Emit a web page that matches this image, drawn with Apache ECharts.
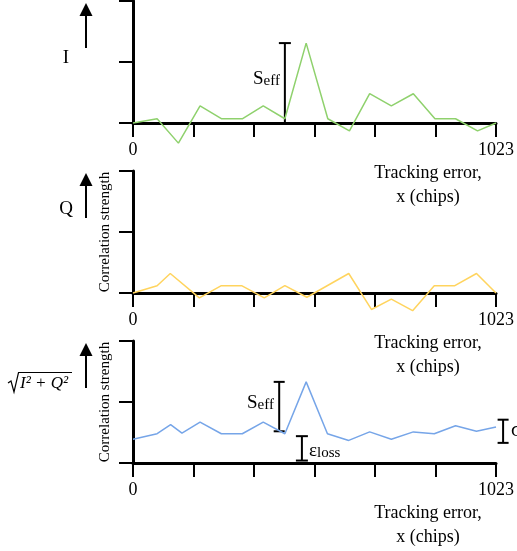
<!DOCTYPE html>
<html>
<head>
<meta charset="utf-8">
<script src="https://cdn.jsdelivr.net/npm/echarts@6/dist/echarts.min.js"></script>
<style>
html, body { margin: 0; padding: 0; background: #fff; }
#main { width: 517px; height: 551px; }
</style>
</head>
<body>
<div id="main"></div>
<script>
// 跟踪误差 (chips) 与各通道相关值
const xI = [0, 68, 128, 189, 249, 309, 367, 428, 488, 549, 610, 667, 728, 790, 851, 909, 971, 1023];
const yI = [0, 0.07, -0.33, 0.28, 0.07, 0.07, 0.28, 0.07, 1.31, 0.07, -0.13, 0.48, 0.28, 0.48, 0.07, 0.07, -0.13, 0];

const xQ = [0, 68, 105, 187, 249, 306, 370, 428, 490, 608, 672, 728, 788, 849, 907, 968, 1023];
const yQ = [0, 0.12, 0.32, -0.08, 0.12, 0.12, -0.08, 0.12, -0.07, 0.32, -0.27, -0.1, -0.29, 0.12, 0.12, 0.32, 0];

const xA = [0, 68, 106, 138, 189, 249, 308, 367, 428, 488, 548, 608, 667, 728, 790, 849, 909, 968, 1023];
const yA = [0.39, 0.48, 0.63, 0.49, 0.67, 0.48, 0.48, 0.67, 0.48, 1.33, 0.48, 0.37, 0.51, 0.39, 0.51, 0.48, 0.61, 0.52, 0.59];

// 刻度标签
const xTickLabels = [0, 1023];

// 标注: [x, 下端, 上端]
const seffTop = [428, 0.0, 1.31];
const seffMag = [412, 0.52, 1.33];
const epsLoss = [476, 0.04, 0.44];
const sigmaBar = [1043, 0.33, 0.71];

const colorMap = { I: '#8fd16d', Q: '#ffd45e', A: '#76a5e8' };
const serif = 'Liberation Serif';

const chartDom = document.getElementById('main');
const myChart = echarts.init(chartDom);

const zip = (xs, ys) => xs.map((x, i) => [x, ys[i]]);

function makeX(idx) {
    return {
        type: 'value', gridIndex: idx, min: 0, max: 1023, interval: 1023 / 6,
        axisLine: { onZero: false, lineStyle: { color: '#000', width: 3 } },
        axisTick: { show: true, length: 14, lineStyle: { color: '#000', width: 2 } },
        axisLabel: {
            margin: 18, fontSize: 18, fontFamily: serif, color: '#000',
            showMinLabel: true, showMaxLabel: true,
            formatter: v => xTickLabels.includes(Math.round(v)) ? String(Math.round(v)) : ''
        },
        splitLine: { show: false }
    };
}

function makeY(idx, name) {
    return {
        type: 'value', gridIndex: idx, min: 0, max: 2, interval: 1,
        name: name, nameLocation: 'middle', nameGap: 20,
        nameTextStyle: { fontSize: 15, fontFamily: serif, color: '#000' },
        axisLine: { show: true, onZero: false, lineStyle: { color: '#000', width: 3 } },
        axisTick: { show: true, length: 14, lineStyle: { color: '#000', width: 2 } },
        axisLabel: { show: false },
        splitLine: { show: false }
    };
}

function makeLine(idx, data, color) {
    return {
        type: 'line', xAxisIndex: idx, yAxisIndex: idx, data: data,
        showSymbol: false, clip: false, silent: true,
        lineStyle: { color: color, width: 1.5 }
    };
}

let option = {
    backgroundColor: '#fff',
    animation: false,
    grid: [
        { left: 133, right: 19, top: 1, height: 122 },
        { left: 133, right: 19, top: 171, height: 122 },
        { left: 133, right: 19, top: 341, height: 122 }
    ],
    xAxis: [makeX(0), makeX(1), makeX(2)],
    yAxis: [makeY(0, ''), makeY(1, 'Correlation strength'), makeY(2, 'Correlation strength')],
    series: [
        makeLine(0, zip(xI, yI), colorMap.I),
        makeLine(1, zip(xQ, yQ), colorMap.Q),
        makeLine(2, zip(xA, yA), colorMap.A)
    ]
};
myChart.setOption(option);

// 注释图形
const px = (g, x, y) => myChart.convertToPixel({ gridIndex: g }, [x, y]);
const stroke = { stroke: '#000', lineWidth: 2 };

function errBar(g, spec, cap) {
    const a = px(g, spec[0], spec[1]);
    const b = px(g, spec[0], spec[2]);
    return [
        { type: 'line', shape: { x1: a[0], y1: a[1], x2: b[0], y2: b[1] }, style: stroke },
        { type: 'line', shape: { x1: a[0] - cap / 2, y1: a[1], x2: a[0] + cap / 2, y2: a[1] }, style: stroke },
        { type: 'line', shape: { x1: b[0] - cap / 2, y1: b[1], x2: b[0] + cap / 2, y2: b[1] }, style: stroke }
    ];
}

function arrow(top) {
    return [
        { type: 'line', shape: { x1: 86, y1: top + 47, x2: 86, y2: top + 14 }, style: stroke },
        { type: 'polygon', shape: { points: [[86, top + 2], [79.5, top + 15], [92.5, top + 15]] }, style: { fill: '#000' } }
    ];
}

function subText(x, y, main, sub, align) {
    return {
        type: 'text',
        style: {
            text: '{m|' + main + '}{s|' + sub + '}',
            x: x, y: y, align: align, verticalAlign: 'middle',
            rich: {
                m: { fontSize: 19, fontFamily: serif, fill: '#000', lineHeight: 21, verticalAlign: 'bottom' },
                s: { fontSize: 15, fontFamily: serif, fill: '#000', lineHeight: 15, verticalAlign: 'bottom' }
            }
        }
    };
}

function plainText(x, y, txt, size, extra) {
    return {
        type: 'text',
        style: Object.assign({
            text: txt, x: x, y: y, align: 'center', verticalAlign: 'middle',
            fontSize: size, fontFamily: serif, fill: '#000'
        }, extra || {})
    };
}

const graphics = [];
[0, 1, 2].forEach(g => {
    const top = px(g, 0, 2)[1];
    const axisY = px(g, 0, 0)[1];
    graphics.push(...arrow(top));
    graphics.push(plainText(428, axisY + 50, 'Tracking error,', 18));
    graphics.push(plainText(428, axisY + 74, 'x (chips)', 18));
});

const t0 = px(0, 0, 2)[1], t1 = px(1, 0, 2)[1], t2 = px(2, 0, 2)[1];
graphics.push(plainText(66, t0 + 57, 'I', 19));
graphics.push(plainText(66, t1 + 38, 'Q', 19));
// 根号
graphics.push({
    type: 'polyline',
    shape: { points: [[8, t2 + 42], [11, t2 + 40], [14, t2 + 51], [18.5, t2 + 31.5], [72, t2 + 31.5]] },
    style: { stroke: '#000', lineWidth: 1.2, fill: null }
});
graphics.push(plainText(20, t2 + 43, 'I² + Q²', 17, { align: 'left', fontStyle: 'italic' }));

graphics.push(...errBar(0, seffTop, 12));
graphics.push(subText(280, px(0, 0, 0.73)[1], 'S', 'eff', 'right'));

graphics.push(...errBar(2, seffMag, 11));
graphics.push(subText(274, px(2, 0, 1.0)[1], 'S', 'eff', 'right'));
graphics.push(...errBar(2, epsLoss, 12));
graphics.push(subText(309, px(2, 0, 0.22)[1], 'ε', 'loss', 'left'));
graphics.push(...errBar(2, sigmaBar, 11));
graphics.push(plainText(511, px(2, 0, 0.53)[1], 'σ', 20, { align: 'left' }));

myChart.setOption({ graphic: graphics });
</script>
</body>
</html>
